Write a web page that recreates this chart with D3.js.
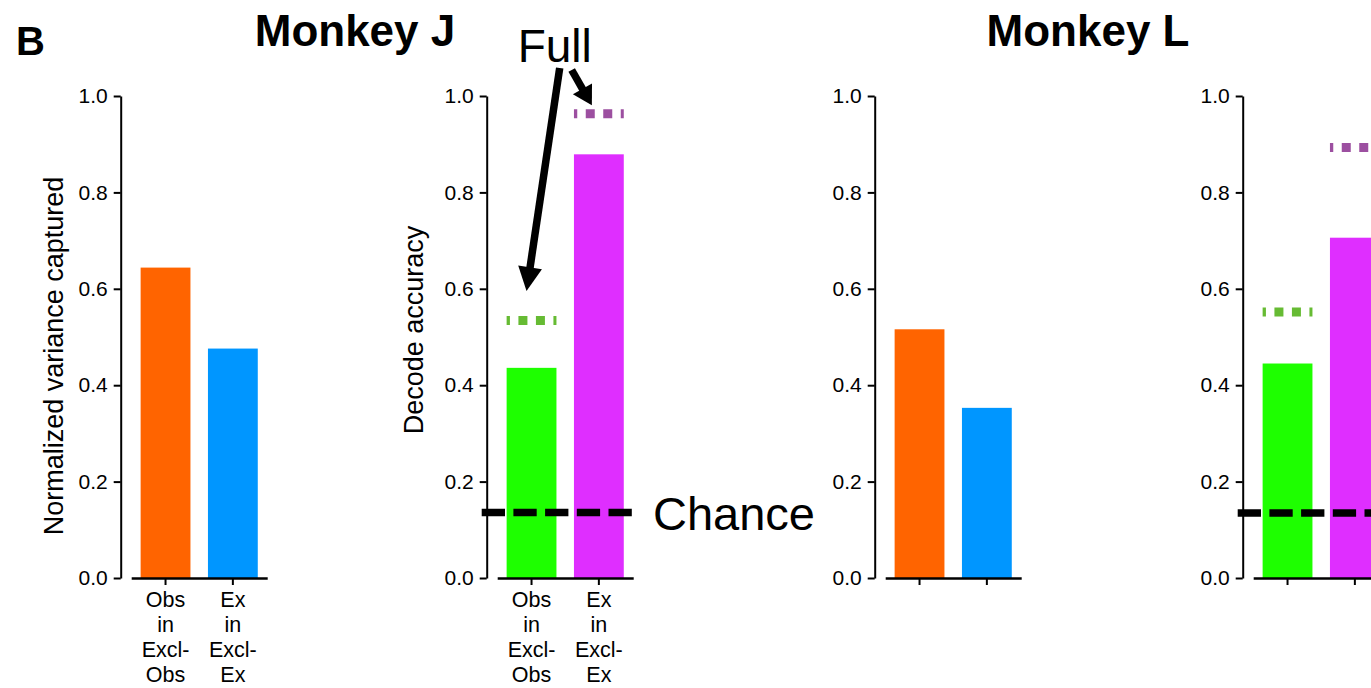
<!DOCTYPE html>
<html>
<head>
<meta charset="utf-8">
<script src="https://cdn.jsdelivr.net/npm/d3@7"></script>
<style>
  html, body { margin: 0; padding: 0; background: #fff; }
  svg { display: block; }
  text { font-family: "Liberation Sans", Arial, Helvetica, sans-serif; fill: #000; }
</style>
</head>
<body>
<svg id="chart" width="1371" height="688"></svg>
<script>
// ---- data ----
const categories = ["Obs in Excl-Obs", "Ex in Excl-Ex"];
const categoryLabelLines = [["Obs", "in", "Excl-", "Obs"], ["Ex", "in", "Excl-", "Ex"]];
const varianceJ = [0.644, 0.476];
const decodeJ = [0.436, 0.879];
const fullJ = [0.534, 0.963];
const varianceL = [0.516, 0.353];
const decodeL = [0.445, 0.706];
const fullL = [0.552, 0.893];
const chanceJ = 0.136;
const chanceL = 0.135;
const yTicks = [0, 0.2, 0.4, 0.6, 0.8, 1.0];
const titles = ["Monkey J", "Monkey L"];
const yLabels = ["Normalized variance captured", "Decode accuracy"];

const varianceColors = ["#FF6400", "#0096FF"];
const decodeColors = ["#1EFF00", "#DF2EFF"];
const fullColors = ["#66BB33", "#9C4FA0"];

// ---- layout ----
const svg = d3.select("#chart");
const y = d3.scaleLinear().domain([0, 1]).range([578, 96]);

const panels = [
  { axisX: 120.7, values: varianceJ, colors: varianceColors, showLabels: true, yLabel: yLabels[0], yLabelX: 63, yLabelY: 356 },
  { axisX: 486.7, values: decodeJ, colors: decodeColors, full: fullJ, chance: chanceJ, showLabels: true, yLabel: yLabels[1], yLabelX: 423, yLabelY: 330, annotate: true },
  { axisX: 874.7, values: varianceL, colors: varianceColors, showLabels: false },
  { axisX: 1242.7, values: decodeL, colors: decodeColors, full: fullL, chance: chanceL, showLabels: false }
];

function drawArrow(g, x1, y1, x2, y2, headLen, headHalf, width) {
  const dx = x2 - x1, dy = y2 - y1;
  const len = Math.hypot(dx, dy);
  const ux = dx / len, uy = dy / len;
  const bx = x2 - ux * headLen, by = y2 - uy * headLen;
  g.append("line")
    .attr("x1", x1).attr("y1", y1).attr("x2", bx + ux * 2).attr("y2", by + uy * 2)
    .attr("stroke", "#000").attr("stroke-width", width);
  g.append("path")
    .attr("d", `M${x2},${y2} L${bx - uy * headHalf},${by + ux * headHalf} L${bx + uy * headHalf},${by - ux * headHalf} Z`)
    .attr("fill", "#000");
}

panels.forEach(p => {
  const g = svg.append("g");
  const x = d3.scaleBand()
    .domain(categories)
    .range([p.axisX + 10.5, p.axisX + 146.5])
    .paddingInner(0.26)
    .paddingOuter(0.14);

  // y axis
  const yAxis = g.append("g")
    .attr("transform", `translate(${p.axisX},0)`)
    .call(d3.axisLeft(y).tickValues(yTicks).tickFormat(d3.format(".1f")).tickSize(7).tickSizeOuter(0).tickPadding(6));
  yAxis.select(".domain").attr("stroke", "#000").attr("stroke-width", 2);
  yAxis.selectAll(".tick line").attr("stroke", "#000").attr("stroke-width", 2);
  yAxis.selectAll(".tick text")
    .style("font-family", '"Liberation Sans", Arial, sans-serif')
    .style("font-size", "21px").attr("fill", "#000");

  // bars
  g.selectAll("rect.bar")
    .data(p.values)
    .enter().append("rect")
    .attr("class", "bar")
    .attr("x", (d, i) => x(categories[i]))
    .attr("width", x.bandwidth())
    .attr("y", d => y(d))
    .attr("height", d => y(0) - y(d))
    .attr("fill", (d, i) => p.colors[i]);

  // x axis
  const xAxis = g.append("g")
    .attr("transform", `translate(0,${y(0)})`)
    .call(d3.axisBottom(x).tickSize(7).tickSizeOuter(0).tickFormat(""));
  xAxis.select(".domain").attr("stroke", "#000").attr("stroke-width", 2.5);
  xAxis.selectAll(".tick line").attr("stroke", "#000").attr("stroke-width", 2);

  if (p.showLabels) {
    categories.forEach((c, i) => {
      const t = g.append("text")
        .attr("text-anchor", "middle")
        .style("font-size", "21.5px");
      categoryLabelLines[i].forEach((line, k) => {
        t.append("tspan")
          .attr("x", x(c) + x.bandwidth() / 2)
          .attr("y", y(0) + 29 + k * 25)
          .text(line);
      });
    });
    g.append("text")
      .attr("transform", `translate(${p.yLabelX},${p.yLabelY}) rotate(-90)`)
      .attr("text-anchor", "middle")
      .style("font-size", "27px")
      .text(p.yLabel);
  }

  if (p.full) {
    g.selectAll("line.full")
      .data(p.full)
      .enter().append("line")
      .attr("class", "full")
      .attr("x1", (d, i) => x(categories[i]))
      .attr("x2", (d, i) => x(categories[i]) + x.bandwidth())
      .attr("y1", d => y(d)).attr("y2", d => y(d))
      .attr("stroke", (d, i) => fullColors[i])
      .attr("stroke-width", 9)
      .attr("stroke-dasharray", "9,8.5")
      .attr("stroke-dashoffset", 5.7);
  }

  if (p.chance !== undefined) {
    g.append("line")
      .attr("x1", p.axisX - 5)
      .attr("x2", p.axisX + 146.5)
      .attr("y1", y(p.chance)).attr("y2", y(p.chance))
      .attr("stroke", "#000")
      .attr("stroke-width", 7.5)
      .attr("stroke-dasharray", "23.3,8.4");
  }

  if (p.annotate) {
    g.append("text")
      .attr("x", p.axisX + 166.3)
      .attr("y", y(p.chance) + 17.5)
      .style("font-size", "47px")
      .text("Chance");

    const fullX = 517.7, fullY = 62;
    g.append("text")
      .attr("x", fullX).attr("y", fullY)
      .style("font-size", "46px")
      .text("Full");
    const c0 = x(categories[0]) + x.bandwidth() / 2;
    const c1 = x(categories[1]) + x.bandwidth() / 2;
    drawArrow(g, fullX + 42, fullY + 6, c0 - 5, y(p.full[0]) - 29.5, 24, 12, 7.5);
    drawArrow(g, fullX + 54, fullY + 8, c1 - 7, y(p.full[1]) - 8.5, 19, 11, 7.5);
  }
});

// titles
svg.append("text").attr("x", 16).attr("y", 55)
  .style("font-size", "40px").style("font-weight", "bold").text("B");
svg.append("text").attr("x", 355).attr("y", 46).attr("text-anchor", "middle")
  .style("font-size", "44px").style("font-weight", "bold").text(titles[0]);
svg.append("text").attr("x", 1088).attr("y", 46).attr("text-anchor", "middle")
  .style("font-size", "44px").style("font-weight", "bold").text(titles[1]);
</script>
</body>
</html>
